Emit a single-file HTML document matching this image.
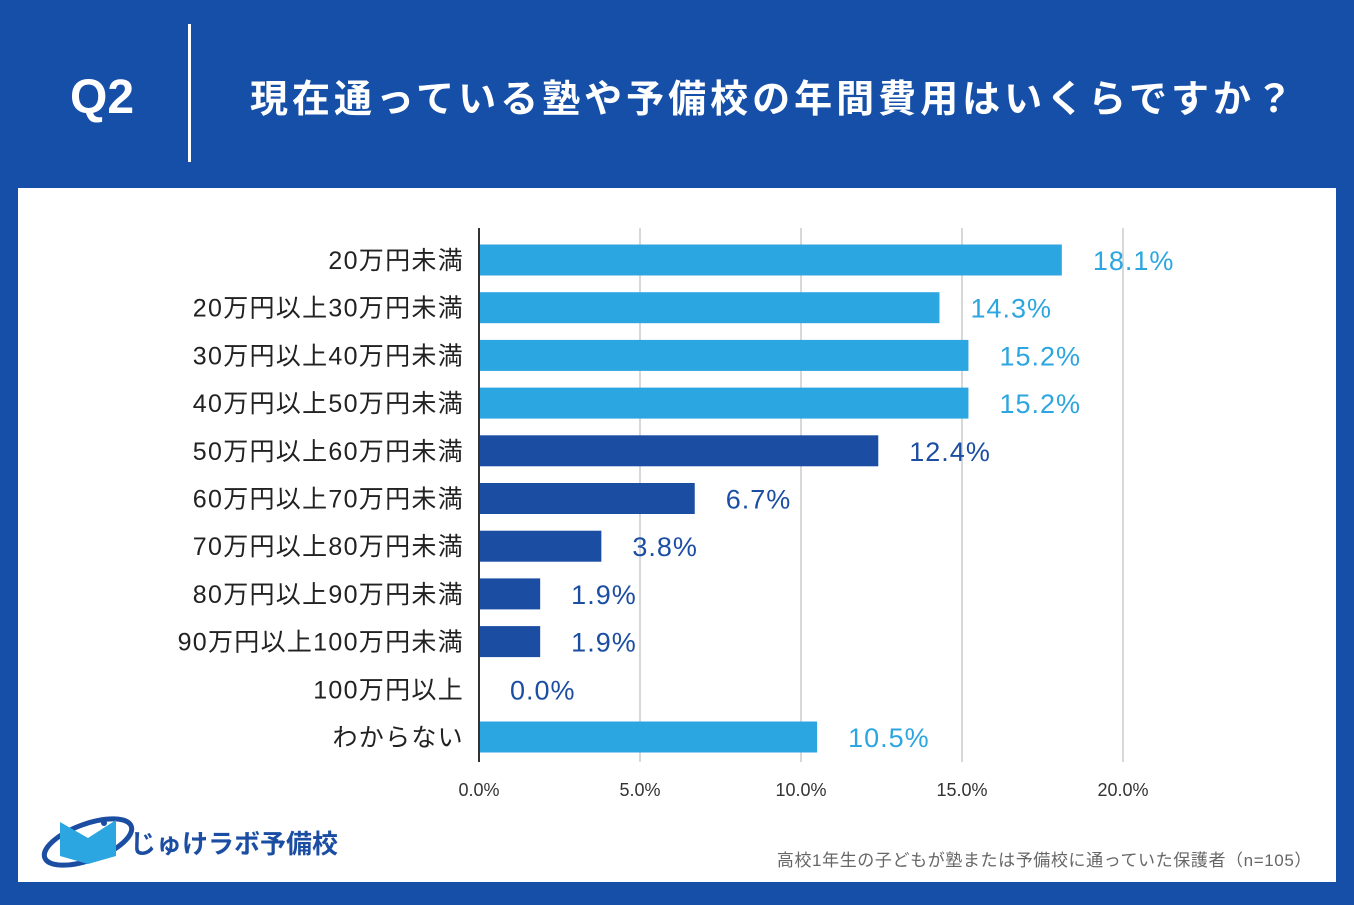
<!DOCTYPE html>
<html><head><meta charset="utf-8"><style>
body{margin:0;width:1354px;height:905px;background:#164fa8;overflow:hidden;font-family:"Liberation Sans","Noto Sans CJK JP",sans-serif;position:relative}
</style></head><body>
<div style="position:absolute;left:0;top:0;width:1354px;height:188px">
<div style="position:absolute;left:70px;top:70px;color:#fff;font-size:48px;font-weight:bold">Q2</div>
<div style="position:absolute;left:188px;top:24px;width:3px;height:138px;background:#fff"></div>
<div style="position:absolute;left:250px;top:68px;color:#fff;font-size:38px;font-weight:bold;letter-spacing:4px">現在通っている塾や予備校の年間費用はいくらですか？</div>
</div>
<div style="position:absolute;left:18px;top:188px;width:1318px;height:694px;background:#fff"></div>
<svg width="1354" height="905" style="position:absolute;left:0;top:0" id="chart"></svg>
<div style="position:absolute;left:40px;top:810px;width:320px;height:60px">
<svg width="100" height="60"><ellipse cx="48" cy="32" rx="46" ry="18" fill="none" stroke="#1b4ea3" stroke-width="5" transform="rotate(-20 48 32)"/><path d="M20 12 L48 28 L76 10 L76 46 L48 54 L20 46Z" fill="#2ca6e0"/><circle cx="64" cy="13" r="3" fill="#1b4ea3"/></svg>
<div style="position:absolute;left:90px;top:14px;color:#1b4ea3;font-size:26px;font-weight:bold">じゅけラボ予備校</div>
</div>
<div style="position:absolute;right:42px;top:846px;color:#666;font-size:17px;letter-spacing:0.6px">高校1年生の子どもが塾または予備校に通っていた保護者（n=105）</div>
<script>
const categories=["20万円未満","20万円以上30万円未満","30万円以上40万円未満","40万円以上50万円未満","50万円以上60万円未満","60万円以上70万円未満","70万円以上80万円未満","80万円以上90万円未満","90万円以上100万円未満","100万円以上","わからない"];
const values=[18.1,14.3,15.2,15.2,12.4,6.7,3.8,1.9,1.9,0.0,10.5];
const barGroups=["light","light","light","light","dark","dark","dark","dark","dark","dark","light"];
const ticks=[0,5,10,15,20];
const svg=document.getElementById('chart');
const NS='http://www.w3.org/2000/svg';
const x0=479,pxPer=32.2,y0=260,step=47.7,bh=31;
const xs=v=>x0+v*pxPer, ys=i=>y0+i*step;
const col={light:"#2ca6e0",dark:"#1b4ea3"};
function mk(t,a){const e=document.createElementNS(NS,t);for(const k in a)e.setAttribute(k,a[k]);svg.appendChild(e);return e;}
ticks.forEach(t=>{
 if(t>0){const g=mk('line',{x1:xs(t),x2:xs(t),y1:228,y2:762,stroke:'#ccc','stroke-width':1.5});
 
 }
 const l=mk('text',{x:xs(t),y:796,'text-anchor':'middle','font-size':18,fill:'#333'});
 l.textContent=t.toFixed(1)+'%';
 
 
});
categories.forEach((c,i)=>{
 const y=ys(i);
 const r=mk('rect',{x:x0,y:y-bh/2,width:Math.max(0,values[i]*pxPer),height:bh,fill:col[barGroups[i]]});
 
 
 const t=mk('text',{x:464,y:y+9,'text-anchor':'end','font-size':25,'letter-spacing':'1.3',fill:'#222'});
 t.textContent=c;
 
 
 const v=mk('text',{x:xs(values[i])+31,y:y+10,'font-size':27,'letter-spacing':'1',fill:col[barGroups[i]]});
 v.textContent=values[i].toFixed(1)+'%';
 
 
});
const ax=mk('line',{x1:x0,x2:x0,y1:228,y2:762,stroke:'#333','stroke-width':2});


</script>
</body></html>
